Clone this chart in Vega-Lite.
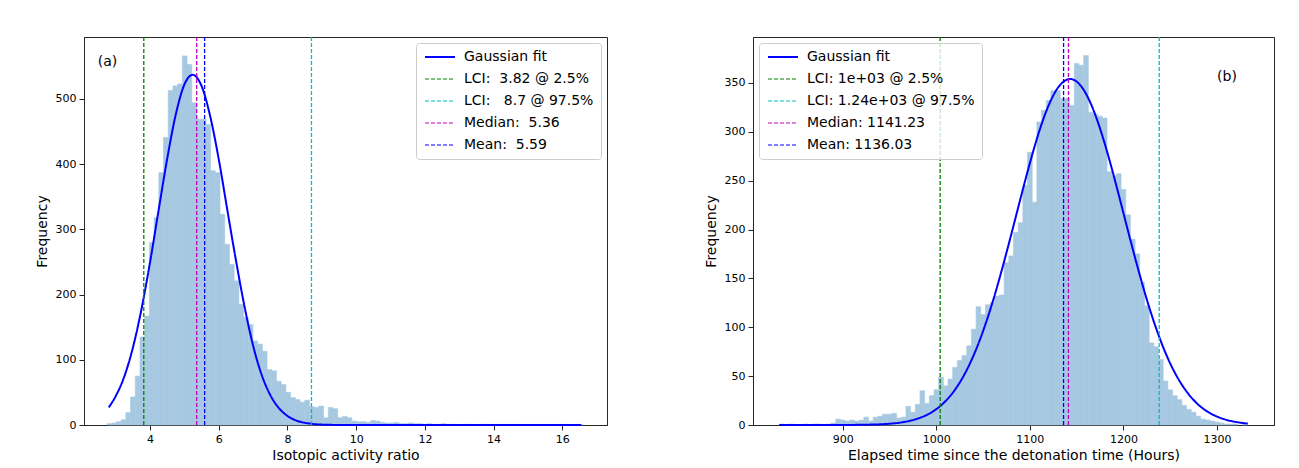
{
  "$schema": "https://vega.github.io/schema/vega-lite/v6.json",
  "background": "white",
  "padding": {"left": 34, "top": 35, "right": 5, "bottom": 5},
  "spacing": 146,
  "bounds": "flush",
  "resolve": {"scale": {"color": "independent", "strokeDash": "independent", "x": "independent", "y": "independent"}, "legend": {"color": "independent", "strokeDash": "independent"}},
  "config": {
    "font": "DejaVu Sans",
    "view": {"stroke": "#262626", "strokeWidth": 1},
    "axis": {"grid": false, "domainColor": "#262626", "tickColor": "#262626", "labelColor": "#000000", "titleColor": "#000000", "labelFont": "DejaVu Sans", "labelFontSize": 11, "titleFont": "DejaVu Sans", "titleFontSize": 14, "titleFontWeight": "normal", "tickSize": 5, "labelPadding": 3, "labelFlush": false, "labelOverlap": false},
    "axisX": {"titlePadding": 4},
    "axisY": {"titlePadding": 6}
  },
  "hconcat": [
    {
      "width": 523,
      "height": 388,
      "layer": [
        {
          "data": {"values": [
            {"lo":2.750,"hi":2.887,"n":2},{"lo":2.887,"hi":3.024,"n":3},{"lo":3.024,"hi":3.161,"n":5},{"lo":3.161,"hi":3.298,"n":8},
            {"lo":3.298,"hi":3.435,"n":19},{"lo":3.435,"hi":3.572,"n":43},{"lo":3.572,"hi":3.709,"n":75},{"lo":3.709,"hi":3.846,"n":135},
            {"lo":3.846,"hi":3.983,"n":167},{"lo":3.983,"hi":4.120,"n":280},{"lo":4.120,"hi":4.257,"n":318},{"lo":4.257,"hi":4.394,"n":387},
            {"lo":4.394,"hi":4.531,"n":441},{"lo":4.531,"hi":4.668,"n":513},{"lo":4.668,"hi":4.805,"n":520},{"lo":4.805,"hi":4.942,"n":523},
            {"lo":4.942,"hi":5.079,"n":566},{"lo":5.079,"hi":5.216,"n":553},{"lo":5.216,"hi":5.353,"n":494},{"lo":5.353,"hi":5.490,"n":469},
            {"lo":5.490,"hi":5.627,"n":469},{"lo":5.627,"hi":5.764,"n":461},{"lo":5.764,"hi":5.901,"n":390},{"lo":5.901,"hi":6.038,"n":387},
            {"lo":6.038,"hi":6.175,"n":323},{"lo":6.175,"hi":6.312,"n":277},{"lo":6.312,"hi":6.449,"n":246},{"lo":6.449,"hi":6.586,"n":221},
            {"lo":6.586,"hi":6.723,"n":185},{"lo":6.723,"hi":6.860,"n":165},{"lo":6.860,"hi":6.997,"n":154},{"lo":6.997,"hi":7.134,"n":129},
            {"lo":7.134,"hi":7.271,"n":124},{"lo":7.271,"hi":7.408,"n":113},{"lo":7.408,"hi":7.545,"n":85},{"lo":7.545,"hi":7.682,"n":83},
            {"lo":7.682,"hi":7.819,"n":67},{"lo":7.819,"hi":7.956,"n":62},{"lo":7.956,"hi":8.093,"n":50},{"lo":8.093,"hi":8.230,"n":42},
            {"lo":8.230,"hi":8.367,"n":39},{"lo":8.367,"hi":8.504,"n":35},{"lo":8.504,"hi":8.641,"n":38},{"lo":8.641,"hi":8.778,"n":28},
            {"lo":8.778,"hi":8.915,"n":27},{"lo":8.915,"hi":9.052,"n":29},{"lo":9.052,"hi":9.189,"n":11},{"lo":9.189,"hi":9.326,"n":27},
            {"lo":9.326,"hi":9.463,"n":25},{"lo":9.463,"hi":9.600,"n":11},{"lo":9.600,"hi":9.737,"n":13},{"lo":9.737,"hi":9.874,"n":11},
            {"lo":9.874,"hi":10.011,"n":6},{"lo":10.011,"hi":10.148,"n":5},{"lo":10.148,"hi":10.285,"n":5},{"lo":10.285,"hi":10.422,"n":4},
            {"lo":10.422,"hi":10.559,"n":7},{"lo":10.559,"hi":10.696,"n":6},{"lo":10.696,"hi":10.833,"n":4},{"lo":10.833,"hi":10.970,"n":3},
            {"lo":10.970,"hi":11.107,"n":3},{"lo":11.107,"hi":11.244,"n":4},{"lo":11.244,"hi":11.381,"n":2},{"lo":11.381,"hi":11.518,"n":2},
            {"lo":11.518,"hi":11.655,"n":3},{"lo":11.655,"hi":11.792,"n":2},{"lo":11.792,"hi":11.929,"n":2},{"lo":11.929,"hi":12.066,"n":1},
            {"lo":12.066,"hi":12.203,"n":2},{"lo":12.203,"hi":12.340,"n":1},{"lo":12.340,"hi":12.477,"n":1},{"lo":12.477,"hi":12.614,"n":2},
            {"lo":12.614,"hi":12.751,"n":1},{"lo":12.751,"hi":12.888,"n":1},{"lo":12.888,"hi":13.025,"n":1},{"lo":13.162,"hi":13.299,"n":1},
            {"lo":13.299,"hi":13.436,"n":1},{"lo":13.573,"hi":13.710,"n":1},{"lo":13.710,"hi":13.847,"n":1},{"lo":13.847,"hi":13.984,"n":1},
            {"lo":14.121,"hi":14.258,"n":1},{"lo":14.395,"hi":14.532,"n":1},{"lo":14.532,"hi":14.669,"n":1},{"lo":14.943,"hi":15.080,"n":1},
            {"lo":15.217,"hi":15.354,"n":1},{"lo":15.628,"hi":15.765,"n":1},{"lo":16.039,"hi":16.176,"n":1},{"lo":16.450,"hi":16.587,"n":1}
          ]},
          "mark": {"type": "rect", "color": "#a6c8e1", "stroke": "#a6c8e1", "strokeWidth": 0.6},
          "encoding": {
            "x": {"field": "lo", "type": "quantitative", "scale": {"domain": [2.08, 17.3], "nice": false, "zero": false}, "axis": {"title": "Isotopic activity ratio", "values": [4, 6, 8, 10, 12, 14, 16]}},
            "x2": {"field": "hi"},
            "y": {"field": "n", "type": "quantitative", "scale": {"domain": [0, 595], "nice": false}, "axis": {"title": "Frequency", "values": [0, 100, 200, 300, 400, 500]}},
            "y2": {"datum": 0}
          }
        },
        {
          "data": {"values": [
            {"x":2.8,"y":27,"label":"Gaussian fit"},{"x":3.0,"y":44,"label":"Gaussian fit"},{"x":3.25,"y":74,"label":"Gaussian fit"},
            {"x":3.5,"y":118,"label":"Gaussian fit"},{"x":3.75,"y":177,"label":"Gaussian fit"},{"x":4.0,"y":249,"label":"Gaussian fit"},
            {"x":4.25,"y":329,"label":"Gaussian fit"},{"x":4.5,"y":408,"label":"Gaussian fit"},{"x":4.75,"y":476,"label":"Gaussian fit"},
            {"x":5.0,"y":522,"label":"Gaussian fit"},{"x":5.24,"y":537,"label":"Gaussian fit"},{"x":5.5,"y":520,"label":"Gaussian fit"},
            {"x":5.75,"y":474,"label":"Gaussian fit"},{"x":6.0,"y":408,"label":"Gaussian fit"},{"x":6.25,"y":330,"label":"Gaussian fit"},
            {"x":6.5,"y":253,"label":"Gaussian fit"},{"x":6.75,"y":182,"label":"Gaussian fit"},{"x":7.0,"y":122,"label":"Gaussian fit"},
            {"x":7.25,"y":77,"label":"Gaussian fit"},{"x":7.5,"y":46,"label":"Gaussian fit"},{"x":7.75,"y":26,"label":"Gaussian fit"},
            {"x":8.0,"y":14,"label":"Gaussian fit"},{"x":8.25,"y":7,"label":"Gaussian fit"},{"x":8.5,"y":3.5,"label":"Gaussian fit"},
            {"x":8.75,"y":1.6,"label":"Gaussian fit"},{"x":9.0,"y":0.6,"label":"Gaussian fit"},{"x":9.5,"y":0.1,"label":"Gaussian fit"},
            {"x":10.0,"y":0,"label":"Gaussian fit"},{"x":12.0,"y":0,"label":"Gaussian fit"},{"x":14.0,"y":0,"label":"Gaussian fit"},
            {"x":16.55,"y":0,"label":"Gaussian fit"}
          ]},
          "mark": {"type": "line", "strokeWidth": 2, "interpolate": "monotone"},
          "encoding": {
            "x": {"field": "x", "type": "quantitative"},
            "y": {"field": "y", "type": "quantitative"},
            "color": {"field": "label", "type": "nominal", "scale": {"domain": ["Gaussian fit", "LCI:\u00a0\u00a03.82 @ 2.5%", "LCI:\u00a0\u00a0\u00a08.7 @ 97.5%", "Median:\u00a0\u00a05.36", "Mean:\u00a0\u00a05.59"], "range": ["#0000ff", "#008000", "#00bfbf", "#bf00bf", "#0000ff"]},
              "legend": {"title": null, "orient": "top-right", "offset": 6, "symbolType": "M-1,0H5", "symbolSize": 100, "labelOffset": 27, "labelFont": "DejaVu Sans", "labelFontSize": 14, "labelColor": "#000000", "labelLimit": 400, "padding": 7, "rowPadding": 8, "strokeColor": "#cccccc", "fillColor": "rgba(255,255,255,0.8)", "cornerRadius": 3, "encode": {"symbols": {"update": {"strokeWidth": {"signal": "datum.value === 'Gaussian fit' ? 2.2 : 1.2"}}}}}},
            "strokeDash": {"field": "label", "type": "nominal", "scale": {"domain": ["Gaussian fit", "LCI:\u00a0\u00a03.82 @ 2.5%", "LCI:\u00a0\u00a0\u00a08.7 @ 97.5%", "Median:\u00a0\u00a05.36", "Mean:\u00a0\u00a05.59"], "range": [[1, 0], [4, 2], [4, 2], [4, 2], [4, 2]]},
              "legend": {"title": null, "orient": "top-right", "offset": 6, "symbolType": "M-1,0H5", "symbolSize": 100, "labelOffset": 27, "labelFont": "DejaVu Sans", "labelFontSize": 14, "labelColor": "#000000", "labelLimit": 400, "padding": 7, "rowPadding": 8, "strokeColor": "#cccccc", "fillColor": "rgba(255,255,255,0.8)", "cornerRadius": 3, "encode": {"symbols": {"update": {"strokeWidth": {"signal": "datum.value === 'Gaussian fit' ? 2.2 : 1.2"}}}}}}
          }
        },
        {
          "data": {"values": [
            {"x": 3.82, "label": "LCI:\u00a0\u00a03.82 @ 2.5%"},
            {"x": 8.7, "label": "LCI:\u00a0\u00a0\u00a08.7 @ 97.5%"},
            {"x": 5.36, "label": "Median:\u00a0\u00a05.36"},
            {"x": 5.59, "label": "Mean:\u00a0\u00a05.59"}
          ]},
          "mark": {"type": "rule", "strokeWidth": 1.3},
          "encoding": {
            "x": {"field": "x", "type": "quantitative"},
            "color": {"field": "label", "type": "nominal"},
            "strokeDash": {"field": "label", "type": "nominal"}
          }
        },
        {
          "data": {"values": [{"t": "(a)", "x": 2.48, "y": 557}]},
          "mark": {"type": "text", "align": "left", "baseline": "middle", "fontSize": 14, "font": "DejaVu Sans", "color": "#000000"},
          "encoding": {
            "x": {"field": "x", "type": "quantitative"},
            "y": {"field": "y", "type": "quantitative"},
            "text": {"field": "t"}
          }
        }
      ]
    },
    {
      "width": 521,
      "height": 388,
      "layer": [
        {
          "data": {"values": [
            {"lo":832.5,"hi":837.5,"n":1},{"lo":842.5,"hi":847.5,"n":1},{"lo":857.5,"hi":862.5,"n":1},{"lo":867.5,"hi":872.5,"n":1},
            {"lo":872.5,"hi":877.5,"n":1},{"lo":882.5,"hi":887.5,"n":1},{"lo":887.5,"hi":892.5,"n":2},{"lo":892.5,"hi":897.5,"n":6},
            {"lo":897.5,"hi":902.5,"n":5},{"lo":902.5,"hi":907.5,"n":4},{"lo":907.5,"hi":912.5,"n":5},{"lo":912.5,"hi":917.5,"n":4},
            {"lo":917.5,"hi":922.5,"n":5},{"lo":922.5,"hi":927.5,"n":8},{"lo":927.5,"hi":932.5,"n":4},{"lo":932.5,"hi":937.5,"n":8},
            {"lo":937.5,"hi":942.5,"n":9},{"lo":942.5,"hi":947.5,"n":11},{"lo":947.5,"hi":952.5,"n":11},{"lo":952.5,"hi":957.5,"n":12},
            {"lo":957.5,"hi":962.5,"n":7},{"lo":962.5,"hi":967.5,"n":8},{"lo":967.5,"hi":972.5,"n":19},{"lo":972.5,"hi":977.5,"n":13},
            {"lo":977.5,"hi":982.5,"n":21},{"lo":982.5,"hi":987.5,"n":35},{"lo":987.5,"hi":992.5,"n":22},{"lo":992.5,"hi":997.5,"n":30},
            {"lo":997.5,"hi":1002.5,"n":36},{"lo":1002.5,"hi":1007.5,"n":49},{"lo":1007.5,"hi":1012.5,"n":40},{"lo":1012.5,"hi":1017.5,"n":47},
            {"lo":1017.5,"hi":1022.5,"n":59},{"lo":1022.5,"hi":1027.5,"n":66},{"lo":1027.5,"hi":1032.5,"n":71},{"lo":1032.5,"hi":1037.5,"n":81},
            {"lo":1037.5,"hi":1042.5,"n":98},{"lo":1042.5,"hi":1047.5,"n":121},{"lo":1047.5,"hi":1052.5,"n":113},{"lo":1052.5,"hi":1057.5,"n":123},
            {"lo":1057.5,"hi":1062.5,"n":125},{"lo":1062.5,"hi":1067.5,"n":132},{"lo":1067.5,"hi":1072.5,"n":133},{"lo":1072.5,"hi":1077.5,"n":166},
            {"lo":1077.5,"hi":1082.5,"n":173},{"lo":1082.5,"hi":1087.5,"n":197},{"lo":1087.5,"hi":1092.5,"n":207},{"lo":1092.5,"hi":1097.5,"n":245},
            {"lo":1097.5,"hi":1102.5,"n":279},{"lo":1102.5,"hi":1107.5,"n":228},{"lo":1107.5,"hi":1112.5,"n":310},{"lo":1112.5,"hi":1117.5,"n":322},
            {"lo":1117.5,"hi":1122.5,"n":332},{"lo":1122.5,"hi":1127.5,"n":342},{"lo":1127.5,"hi":1132.5,"n":342},{"lo":1132.5,"hi":1137.5,"n":334},
            {"lo":1137.5,"hi":1142.5,"n":334},{"lo":1142.5,"hi":1147.5,"n":327},{"lo":1147.5,"hi":1152.5,"n":370},{"lo":1152.5,"hi":1157.5,"n":368},
            {"lo":1157.5,"hi":1162.5,"n":378},{"lo":1162.5,"hi":1167.5,"n":320},{"lo":1167.5,"hi":1172.5,"n":318},{"lo":1172.5,"hi":1177.5,"n":316},
            {"lo":1177.5,"hi":1182.5,"n":314},{"lo":1182.5,"hi":1187.5,"n":259},{"lo":1187.5,"hi":1192.5,"n":255},{"lo":1192.5,"hi":1197.5,"n":257},
            {"lo":1197.5,"hi":1202.5,"n":241},{"lo":1202.5,"hi":1207.5,"n":215},{"lo":1207.5,"hi":1212.5,"n":190},{"lo":1212.5,"hi":1217.5,"n":175},
            {"lo":1217.5,"hi":1222.5,"n":146},{"lo":1222.5,"hi":1227.5,"n":122},{"lo":1227.5,"hi":1232.5,"n":84},{"lo":1232.5,"hi":1237.5,"n":80},
            {"lo":1237.5,"hi":1242.5,"n":67},{"lo":1242.5,"hi":1247.5,"n":45},{"lo":1247.5,"hi":1252.5,"n":36},{"lo":1252.5,"hi":1257.5,"n":30},
            {"lo":1257.5,"hi":1262.5,"n":26},{"lo":1262.5,"hi":1267.5,"n":20},{"lo":1267.5,"hi":1272.5,"n":16},{"lo":1272.5,"hi":1277.5,"n":13},
            {"lo":1277.5,"hi":1282.5,"n":9},{"lo":1282.5,"hi":1287.5,"n":6},{"lo":1287.5,"hi":1292.5,"n":5},{"lo":1292.5,"hi":1297.5,"n":4},
            {"lo":1297.5,"hi":1302.5,"n":3},{"lo":1302.5,"hi":1307.5,"n":2},{"lo":1307.5,"hi":1312.5,"n":1},{"lo":1312.5,"hi":1317.5,"n":1},
            {"lo":1317.5,"hi":1322.5,"n":1},{"lo":1327.5,"hi":1332.5,"n":1}
          ]},
          "mark": {"type": "rect", "color": "#a6c8e1", "stroke": "#a6c8e1", "strokeWidth": 0.6},
          "encoding": {
            "x": {"field": "lo", "type": "quantitative", "scale": {"domain": [804, 1361], "nice": false, "zero": false}, "axis": {"title": "Elapsed time since the detonation time (Hours)", "values": [900, 1000, 1100, 1200, 1300], "format": "d"}},
            "x2": {"field": "hi"},
            "y": {"field": "n", "type": "quantitative", "scale": {"domain": [0, 397], "nice": false}, "axis": {"title": "Frequency", "values": [0, 50, 100, 150, 200, 250, 300, 350]}},
            "y2": {"datum": 0}
          }
        },
        {
          "data": {"values": [
            {"x":832,"y":0,"label":"Gaussian fit"},{"x":875,"y":0,"label":"Gaussian fit"},{"x":900,"y":0.05,"label":"Gaussian fit"},
            {"x":925,"y":0.3,"label":"Gaussian fit"},{"x":950,"y":1.3,"label":"Gaussian fit"},{"x":965,"y":3.0,"label":"Gaussian fit"},
            {"x":980,"y":6.5,"label":"Gaussian fit"},{"x":990,"y":10.4,"label":"Gaussian fit"},{"x":1000,"y":16.2,"label":"Gaussian fit"},
            {"x":1010,"y":24.6,"label":"Gaussian fit"},{"x":1020,"y":36.2,"label":"Gaussian fit"},{"x":1030,"y":51.7,"label":"Gaussian fit"},
            {"x":1040,"y":71.6,"label":"Gaussian fit"},{"x":1050,"y":96.2,"label":"Gaussian fit"},{"x":1060,"y":125.3,"label":"Gaussian fit"},
            {"x":1070,"y":158.6,"label":"Gaussian fit"},{"x":1080,"y":194.6,"label":"Gaussian fit"},{"x":1090,"y":231.8,"label":"Gaussian fit"},
            {"x":1100,"y":267.9,"label":"Gaussian fit"},{"x":1110,"y":300.5,"label":"Gaussian fit"},{"x":1120,"y":326.9,"label":"Gaussian fit"},
            {"x":1130,"y":345.1,"label":"Gaussian fit"},{"x":1143,"y":354,"label":"Gaussian fit"},{"x":1155,"y":346.4,"label":"Gaussian fit"},
            {"x":1165,"y":329.1,"label":"Gaussian fit"},{"x":1175,"y":303.4,"label":"Gaussian fit"},{"x":1185,"y":271.4,"label":"Gaussian fit"},
            {"x":1195,"y":235.5,"label":"Gaussian fit"},{"x":1205,"y":198.3,"label":"Gaussian fit"},{"x":1215,"y":162.1,"label":"Gaussian fit"},
            {"x":1225,"y":128.5,"label":"Gaussian fit"},{"x":1235,"y":98.9,"label":"Gaussian fit"},{"x":1245,"y":73.8,"label":"Gaussian fit"},
            {"x":1255,"y":53.5,"label":"Gaussian fit"},{"x":1265,"y":37.6,"label":"Gaussian fit"},{"x":1275,"y":25.6,"label":"Gaussian fit"},
            {"x":1285,"y":16.9,"label":"Gaussian fit"},{"x":1295,"y":10.9,"label":"Gaussian fit"},{"x":1305,"y":6.8,"label":"Gaussian fit"},
            {"x":1315,"y":4.1,"label":"Gaussian fit"},{"x":1325,"y":2.4,"label":"Gaussian fit"},{"x":1333,"y":1.5,"label":"Gaussian fit"}
          ]},
          "mark": {"type": "line", "strokeWidth": 2, "interpolate": "monotone"},
          "encoding": {
            "x": {"field": "x", "type": "quantitative"},
            "y": {"field": "y", "type": "quantitative"},
            "color": {"field": "label", "type": "nominal", "scale": {"domain": ["Gaussian fit", "LCI: 1e+03 @ 2.5%", "LCI: 1.24e+03 @ 97.5%", "Median: 1141.23", "Mean: 1136.03"], "range": ["#0000ff", "#008000", "#00bfbf", "#bf00bf", "#0000ff"]},
              "legend": {"title": null, "orient": "top-left", "offset": 6, "symbolType": "M-1,0H5", "symbolSize": 100, "labelOffset": 27, "labelFont": "DejaVu Sans", "labelFontSize": 14, "labelColor": "#000000", "labelLimit": 400, "padding": 7, "rowPadding": 8, "strokeColor": "#cccccc", "fillColor": "rgba(255,255,255,0.8)", "cornerRadius": 3, "encode": {"symbols": {"update": {"strokeWidth": {"signal": "datum.value === 'Gaussian fit' ? 2.2 : 1.2"}}}}}},
            "strokeDash": {"field": "label", "type": "nominal", "scale": {"domain": ["Gaussian fit", "LCI: 1e+03 @ 2.5%", "LCI: 1.24e+03 @ 97.5%", "Median: 1141.23", "Mean: 1136.03"], "range": [[1, 0], [4, 2], [4, 2], [4, 2], [4, 2]]},
              "legend": {"title": null, "orient": "top-left", "offset": 6, "symbolType": "M-1,0H5", "symbolSize": 100, "labelOffset": 27, "labelFont": "DejaVu Sans", "labelFontSize": 14, "labelColor": "#000000", "labelLimit": 400, "padding": 7, "rowPadding": 8, "strokeColor": "#cccccc", "fillColor": "rgba(255,255,255,0.8)", "cornerRadius": 3, "encode": {"symbols": {"update": {"strokeWidth": {"signal": "datum.value === 'Gaussian fit' ? 2.2 : 1.2"}}}}}}
          }
        },
        {
          "data": {"values": [
            {"x": 1004.1, "label": "LCI: 1e+03 @ 2.5%"},
            {"x": 1238.3, "label": "LCI: 1.24e+03 @ 97.5%"},
            {"x": 1141.23, "label": "Median: 1141.23"},
            {"x": 1136.03, "label": "Mean: 1136.03"}
          ]},
          "mark": {"type": "rule", "strokeWidth": 1.3},
          "encoding": {
            "x": {"field": "x", "type": "quantitative"},
            "color": {"field": "label", "type": "nominal"},
            "strokeDash": {"field": "label", "type": "nominal"}
          }
        },
        {
          "data": {"values": [{"t": "(b)", "x": 1310.7, "y": 356}]},
          "mark": {"type": "text", "align": "center", "baseline": "middle", "fontSize": 14, "font": "DejaVu Sans", "color": "#000000"},
          "encoding": {
            "x": {"field": "x", "type": "quantitative"},
            "y": {"field": "y", "type": "quantitative"},
            "text": {"field": "t"}
          }
        }
      ]
    }
  ]
}
